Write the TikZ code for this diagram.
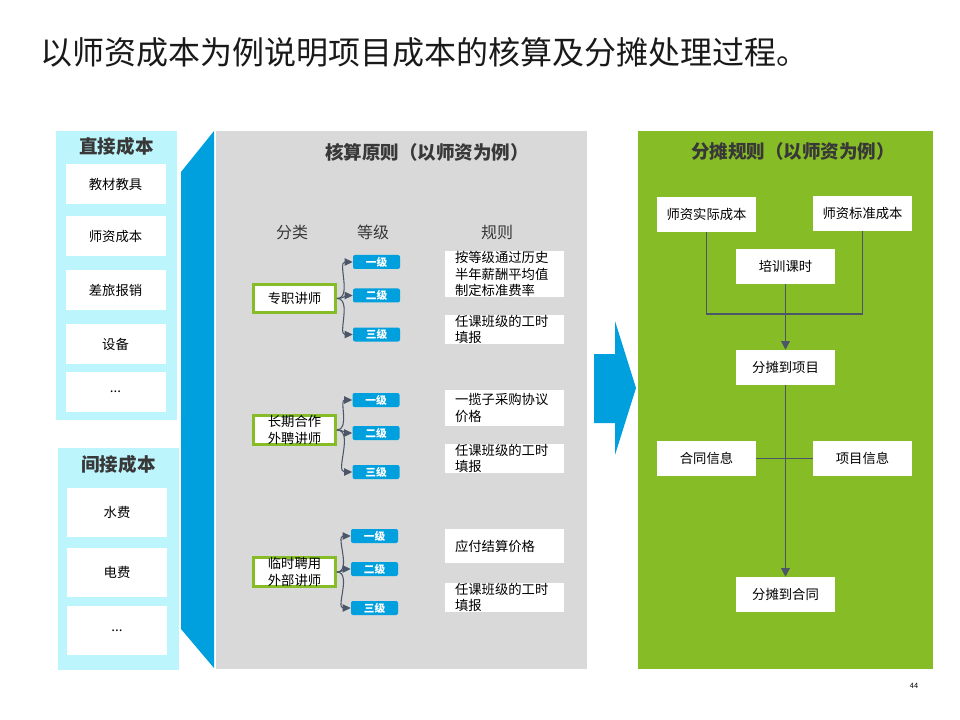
\documentclass[tikz,border=0pt]{standalone}
\usepackage{fontspec}
\setmainfont{Noto Sans CJK SC}
\usepackage{xcolor}
\definecolor{dtblue}{RGB}{0,160,223}
\definecolor{dtgreen}{RGB}{134,188,37}
\definecolor{dtcyan}{RGB}{189,245,252}
\definecolor{dtgrey}{RGB}{217,217,217}
\definecolor{dtslate}{RGB}{75,86,105}
\definecolor{dtink}{RGB}{56,56,56}
\usetikzlibrary{arrows.meta,calc}
\newdimen\px \px=0.75pt
\tikzset{
  ptitle/.style={font=\fontsize{13.9}{16}\selectfont\bfseries, text=dtink, inner sep=0pt},
  colhead/.style={font=\fontsize{12}{14}\selectfont, text=dtink, inner sep=0pt},
  ibox/.style={fill=white, font=\fontsize{10}{12}\selectfont, inner sep=0pt,
               minimum width=100\px, minimum height=40\px},
  cbox/.style={draw=dtgreen, line width=2pt, fill=white, font=\fontsize{10}{12.6}\selectfont,
               align=center, inner sep=0pt, minimum width=82\px, minimum height=28\px},
  lvbox/.style={fill=dtblue, rounded corners=1.5pt, text=white, font=\fontsize{8}{9}\selectfont\bfseries,
                inner sep=0pt, minimum width=47\px, minimum height=14\px},
  rbox/.style={fill=white, font=\fontsize{10}{12.5}\selectfont, align=left, text width=99\px,
               inner xsep=10\px, inner ysep=0pt},
  abox/.style={fill=white, font=\fontsize{10}{12}\selectfont, inner sep=0pt,
               minimum width=99\px, minimum height=35\px},
  brarrow/.style={draw=dtslate, line width=0.8pt, -{Triangle[length=6pt,width=5.5pt]}},
  flowline/.style={draw=dtslate, line width=1pt},
  flowarrow/.style={draw=dtslate, line width=1pt, -{Triangle[length=6.5pt,width=6.5pt]}},
}

\begin{document}
\begin{tikzpicture}[x=0.75pt, y=-0.75pt]
\useasboundingbox (0,0) rectangle (960,720);
% Title
\node[font=\fontsize{24}{28}\selectfont, text=black!90, anchor=west, inner sep=0pt] (title) at (40,52) {以师资成本为例说明项目成本的核算及分摊处理过程。};

% Left: direct costs
\fill[dtcyan] (56,131) rectangle (177,420);
\node[ptitle] (dtitle) at (116.5,146) {直接成本};
\node[ibox] (d1) at (115.5,184) {教材教具};
\node[ibox] (d2) at (115.5,236) {师资成本};
\node[ibox] (d3) at (115.5,290) {差旅报销};
\node[ibox] (d4) at (115.5,344) {设备};
\node[ibox] (d5) at (115.5,392) {...};

% Left: indirect costs
\fill[dtcyan] (58,448) rectangle (179,670);
\node[ptitle] (ititle) at (118.5,464) {间接成本};
\node[ibox, minimum height=49\px] (i1) at (117,512.5) {水费};
\node[ibox, minimum height=49\px] (i2) at (117,572.5) {电费};
\node[ibox, minimum height=49\px] (i3) at (117,630.5) {...};

% Middle: accounting principles
\fill[dtblue] (181,172) -- (214,131) -- (214,668) -- (181,629) -- cycle;
\fill[dtgrey] (216,131) rectangle (587,669);
\node[ptitle] (mtitle) at (427,152) {核算原则（以师资为例）};
\node[colhead] (h1) at (292,232) {分类};
\node[colhead] (h2) at (373,232) {等级};
\node[colhead] (h3) at (497,232) {规则};

% group 1
\node[cbox] (g1) at (294.5,298.5) {专职讲师};
\node[lvbox] (g1a) at (376.5,262) {一级};
\node[lvbox] (g1b) at (376.5,295.5) {二级};
\node[lvbox] (g1c) at (376.5,334.5) {三级};
\draw[brarrow] (g1.east) to[out=0, in=180] (g1a.west);
\draw[brarrow] (g1.east) to[out=0, in=180] (g1b.west);
\draw[brarrow] (g1.east) to[out=0, in=180] (g1c.west);
\node[rbox, minimum height=44\px] (r1a) at (504.5,274) {按等级通过历史\\半年薪酬平均值\\制定标准费率};
\node[rbox, minimum height=29\px] (r1b) at (504.5,329.5) {任课班级的工时\\填报};

% group 2
\node[cbox, minimum height=29\px] (g2) at (294.5,430) {长期合作\\外聘讲师};
\node[lvbox] (g2a) at (376,400) {一级};
\node[lvbox] (g2b) at (376,433) {二级};
\node[lvbox] (g2c) at (376,472) {三级};
\draw[brarrow] (g2.east) to[out=0, in=180] (g2a.west);
\draw[brarrow] (g2.east) to[out=0, in=180] (g2b.west);
\draw[brarrow] (g2.east) to[out=0, in=180] (g2c.west);
\node[rbox, minimum height=36\px] (r2a) at (504.5,408) {一揽子采购协议\\价格};
\node[rbox, minimum height=29\px] (r2b) at (504.5,458.5) {任课班级的工时\\填报};

% group 3
\node[cbox, minimum height=27\px] (g3) at (294.5,572) {临时聘用\\外部讲师};
\node[lvbox] (g3a) at (374.5,536) {一级};
\node[lvbox] (g3b) at (374.5,569) {二级};
\node[lvbox] (g3c) at (374.5,608) {三级};
\draw[brarrow] (g3.east) to[out=0, in=180] (g3a.west);
\draw[brarrow] (g3.east) to[out=0, in=180] (g3b.west);
\draw[brarrow] (g3.east) to[out=0, in=180] (g3c.west);
\node[rbox, minimum height=34\px] (r3a) at (504.5,546) {应付结算价格};
\node[rbox, minimum height=29\px] (r3b) at (504.5,597.5) {任课班级的工时\\填报};

% Big arrow
\fill[dtblue] (594,354) -- (615,354) -- (615,321) -- (636,388) -- (615,455) -- (615,423) -- (594,423) -- cycle;

% Right: allocation rules
\fill[dtgreen] (638,131) rectangle (933,669);
\node[ptitle] (rtitle) at (793,151) {分摊规则（以师资为例）};
\node[abox] (real) at (706.5,214.5) {师资实际成本};
\node[abox] (std) at (862.5,213.5) {师资标准成本};
\node[abox] (hours) at (785.5,266.5) {培训课时};
\node[abox] (toproj) at (785.5,367.5) {分摊到项目};
\node[abox] (cinfo) at (706.5,458.5) {合同信息};
\node[abox] (pinfo) at (862.5,458.5) {项目信息};
\node[abox] (tocon) at (785.5,594.5) {分摊到合同};
\coordinate (jn) at (785.5,314);
\draw[flowline] (real.south) |- (jn) -| (std.south);
\draw[flowarrow] (hours.south) -- (toproj.north);
\draw[flowline] (cinfo.east) -- (pinfo.west);
\draw[flowarrow] (toproj.south) -- (tocon.north);

% page number
\node[font=\fontsize{5.5}{6}\selectfont, inner sep=0pt] (pnum) at (914,686) {44};
\end{tikzpicture}
\end{document}
